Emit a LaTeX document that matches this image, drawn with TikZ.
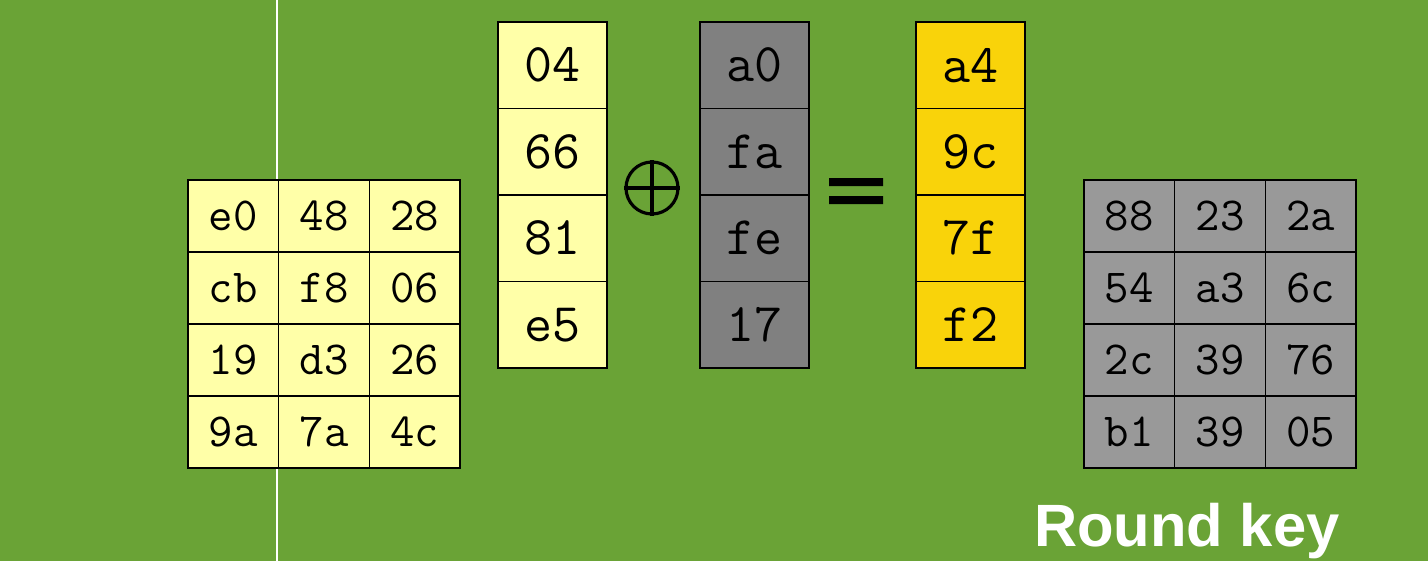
\documentclass[tikz,border=0pt]{standalone}
\usepackage{fontspec}
\setsansfont{Liberation Sans}
\begin{document}
\begin{tikzpicture}[x=0.02cm,y=-0.02cm,
  cell/.style={draw=black,line width=0.8pt,minimum width=90.7*0.02cm,minimum height=72*0.02cm,inner sep=0,font=\ttfamily\fontsize{27}{27}\selectfont},
  col/.style={draw=black,line width=0.8pt,minimum width=109*0.02cm,minimum height=86.5*0.02cm,inner sep=0,font=\ttfamily\fontsize{31}{31}\selectfont}]
\definecolor{bg}{HTML}{6AA336}
\definecolor{ly}{HTML}{FFFFA8}
\definecolor{dg}{HTML}{808080}
\definecolor{yy}{HTML}{F9D30A}
\definecolor{lg}{HTML}{999999}
\fill[bg] (0,0) rectangle (1428,561);
\useasboundingbox (0,0) rectangle (1428,561);
\draw[white,line width=0.8pt] (277,0) -- (277,561);
% left matrix
\foreach \r/\a/\b/\c [count=\i] in {0/e0/48/28,1/cb/f8/06,2/19/d3/26,3/9a/7a/4c}{
  \node[cell,fill=ly] (l\i a) at (233.3,216+72*\r) {\a};
  \node[cell,fill=ly] (l\i b) at (324,216+72*\r) {\b};
  \node[cell,fill=ly] (l\i c) at (414.7,216+72*\r) {\c};
}
% right matrix
\foreach \r/\a/\b/\c [count=\i] in {0/88/23/2a,1/54/a3/6c,2/2c/39/76,3/b1/39/05}{
  \node[cell,fill=lg] (r\i a) at (1129.3,216+72*\r) {\a};
  \node[cell,fill=lg] (r\i b) at (1220,216+72*\r) {\b};
  \node[cell,fill=lg] (r\i c) at (1310.7,216+72*\r) {\c};
}
% columns
\foreach \r/\a/\b/\c [count=\i] in {0/04/a0/a4,1/66/fa/9c,2/81/fe/7f,3/e5/17/f2}{
  \node[col,fill=ly] (c\i a) at (552.5,65.25+86.5*\r) {\a};
  \node[col,fill=dg] (c\i b) at (754.5,65.25+86.5*\r) {\b};
  \node[col,fill=yy] (c\i c) at (970.5,65.25+86.5*\r) {\c};
}
\node[circle,draw=black,line width=1.8pt,minimum size=52*0.02cm,inner sep=0] (xor) at (652,188) {};
\draw[line width=1.8pt] (xor.north) -- (xor.south) (xor.west) -- (xor.east);
\node (eq) at (856,190) {};
\fill[black] (829,178) rectangle (883,186) (829,196) rectangle (883,204);
\node[white,font=\sffamily\bfseries\fontsize{34}{34}\selectfont,anchor=base] (rk) at (1187,546) {Round key};
\end{tikzpicture}
\end{document}
